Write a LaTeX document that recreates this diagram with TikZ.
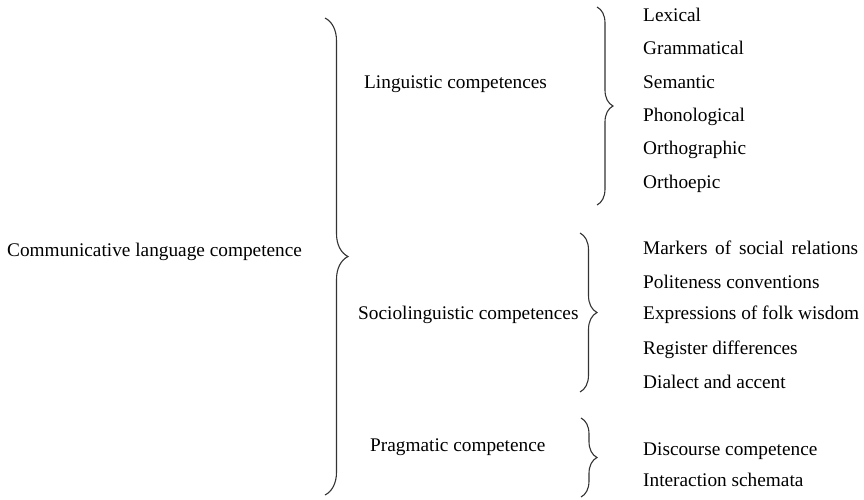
\documentclass[tikz,border=0pt]{standalone}
\usepackage{fontspec}
\setmainfont{Liberation Serif}
\usetikzlibrary{decorations.pathreplacing}

\tikzset{
  grp/.style={decorate, decoration={brace, amplitude=#1}, line width=1.1pt, draw=black!80},
  lbl/.style={anchor=base west, inner sep=0pt, font=\fontsize{19.3}{23}\selectfont}
}

\begin{document}
\begin{tikzpicture}[x=1pt,y=-1pt]
\useasboundingbox (0,0) rectangle (864,499);
% main brace
\draw[grp=23] (325,18) -- (325,495);
\node[lbl] (clc) at (7,256) {Communicative language competence};
% linguistic
\node[lbl] (ling) at (364,88) {Linguistic competences};
\draw[grp=16] (597,7) -- (597,205);
\node[lbl] (lex) at (643,21) {Lexical};
\node[lbl] (gram) at (643,54) {Grammatical};
\node[lbl] (sem) at (643,88) {Semantic};
\node[lbl] (phon) at (643,121) {Phonological};
\node[lbl] (orth) at (643,154) {Orthographic};
\node[lbl] (orthep) at (643,188) {Orthoepic};
% sociolinguistic
\node[lbl] (socio) at (358,319) {Sociolinguistic competences};
\draw[grp=17] (580,233) -- (580,392);
\node[lbl] (mark) at (643,254) {\makebox[215pt][s]{Markers of social relations}};
\node[lbl] (polite) at (643,288) {Politeness conventions};
\node[lbl] (folk) at (643,319) {Expressions of folk wisdom};
\node[lbl] (reg) at (643,354) {Register differences};
\node[lbl] (dial) at (643,388) {Dialect and accent};
% pragmatic
\node[lbl] (prag) at (370,451) {Pragmatic competence};
\draw[grp=16] (581,418) -- (581,497);
\node[lbl] (disc) at (643,455) {Discourse competence};
\node[lbl] (inter) at (643,486) {Interaction schemata};
\end{tikzpicture}
\end{document}
